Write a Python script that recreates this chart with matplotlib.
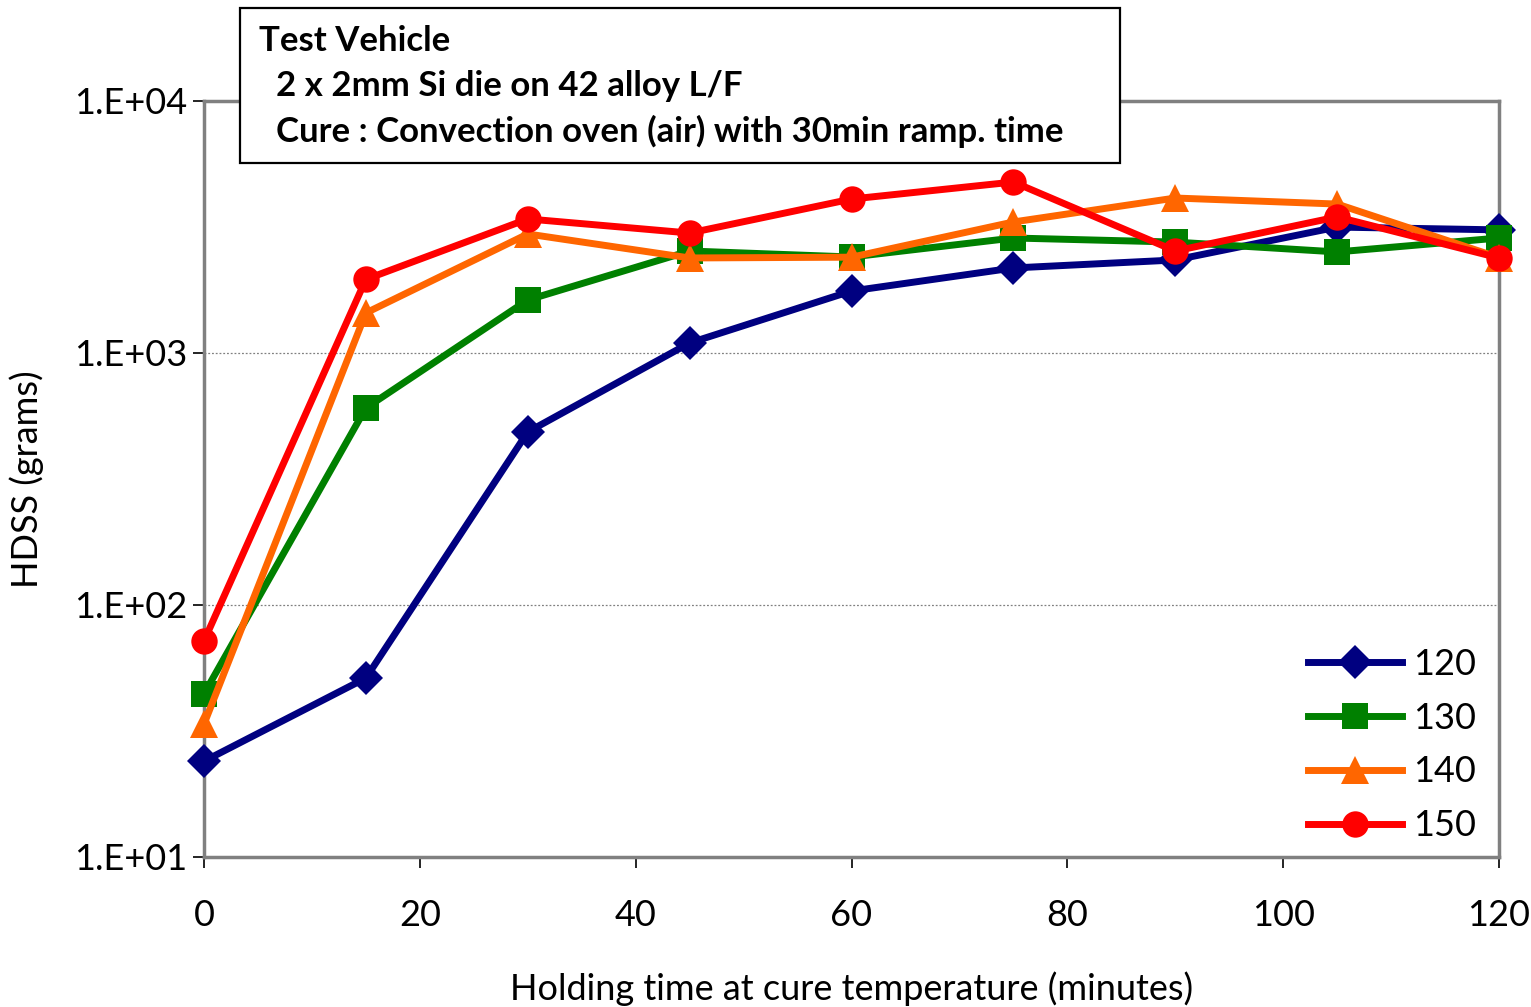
import matplotlib
matplotlib.use("Agg")
import matplotlib.pyplot as plt
from matplotlib.ticker import FixedLocator, FixedFormatter, NullLocator

plt.rcParams['font.family'] = ['Lato', 'DejaVu Sans']

# Holding time (minutes) and HDSS (grams) per cure temperature
hold_time = [0, 15, 30, 45, 60, 75, 90, 105, 120]
hdss_120 = [24.0, 51.3, 486, 1096, 1762, 2175, 2340, 3160, 3080]
hdss_130 = [44.4, 605, 1623, 2540, 2404, 2860, 2755, 2518, 2860]
hdss_140 = [33.7, 1442, 2967, 2383, 2400, 3311, 4121, 3900, 2390]
hdss_150 = [72.0, 1960, 3404, 2993, 4083, 4770, 2540, 3467, 2383]

series_labels = ['120', '130', '140', '150']
x_ticks = [0, 20, 40, 60, 80, 100, 120]
y_ticks = [10, 100, 1000, 10000]
y_tick_labels = ['1.E+01', '1.E+02', '1.E+03', '1.E+04']

W, H = 1531, 1007
fig = plt.figure(figsize=(W / 100, H / 100), dpi=100)
ax = fig.add_axes([204 / W, 1 - 857 / H, (1499 - 204) / W, (857 - 101) / H])

styles = [
    dict(color='#000080', marker='D', markersize=17),
    dict(color='#008000', marker='s', markersize=19),
    dict(color='#FF6600', marker='^', markersize=20),
    dict(color='#FF0000', marker='o', markersize=19),
]
for vals, lab, st in zip([hdss_120, hdss_130, hdss_140, hdss_150], series_labels, styles):
    ax.plot(hold_time, vals, label=lab, linewidth=5, color=st['color'],
            marker=st['marker'], markersize=st['markersize'],
            markeredgewidth=0, clip_on=False, zorder=3)

ax.set_yscale('log')
ax.set_xlim(0, 120)
ax.set_ylim(10, 10000)
ax.yaxis.set_major_locator(FixedLocator(y_ticks))
ax.yaxis.set_major_formatter(FixedFormatter(y_tick_labels))
ax.yaxis.set_minor_locator(NullLocator())
ax.xaxis.set_major_locator(FixedLocator(x_ticks))
ax.tick_params(axis='both', labelsize=26, direction='out', length=8,
               width=1.2, color='black')
ax.tick_params(axis='x', pad=22)
ax.tick_params(axis='y', pad=4)

for s in ax.spines.values():
    s.set_color('#808080')
    s.set_linewidth(2.5)

ax.grid(True, axis='y', which='major', linestyle=(0, (1.5, 1.5)),
        color='#808080', linewidth=0.9)
ax.set_axisbelow(True)

ax.set_ylabel('HDSS (grams)', fontsize=26, labelpad=22)
fig.text(852 / W, 1 - 989 / H, 'Holding time at cure temperature (minutes)',
         fontsize=26, ha='center', va='center')

leg = ax.legend(loc='center left', frameon=False, fontsize=26,
                handlelength=2.6, handletextpad=0.3, labelspacing=0.58,
                borderpad=0, borderaxespad=0,
                bbox_to_anchor=(1308 / W, 1 - 745 / H),
                bbox_transform=fig.transFigure)

# Annotation box describing the test setup
fig.patches.append(plt.Rectangle((240 / W, 1 - 163 / H), (1120 - 240) / W, (163 - 8) / H,
                                 transform=fig.transFigure, facecolor='white',
                                 edgecolor='black', linewidth=1.6, zorder=5))
box_lines = [
    (259, 41, 'Test Vehicle'),
    (276, 86, '2 x 2mm Si die on 42 alloy L/F'),
    (276, 131, 'Cure : Convection oven (air) with 30min ramp. time'),
]
for px, py, txt in box_lines:
    fig.text(px / W, 1 - py / H, txt, fontsize=25, fontweight='bold',
             ha='left', va='center', zorder=6)

fig.savefig('out.png', dpi=100)
